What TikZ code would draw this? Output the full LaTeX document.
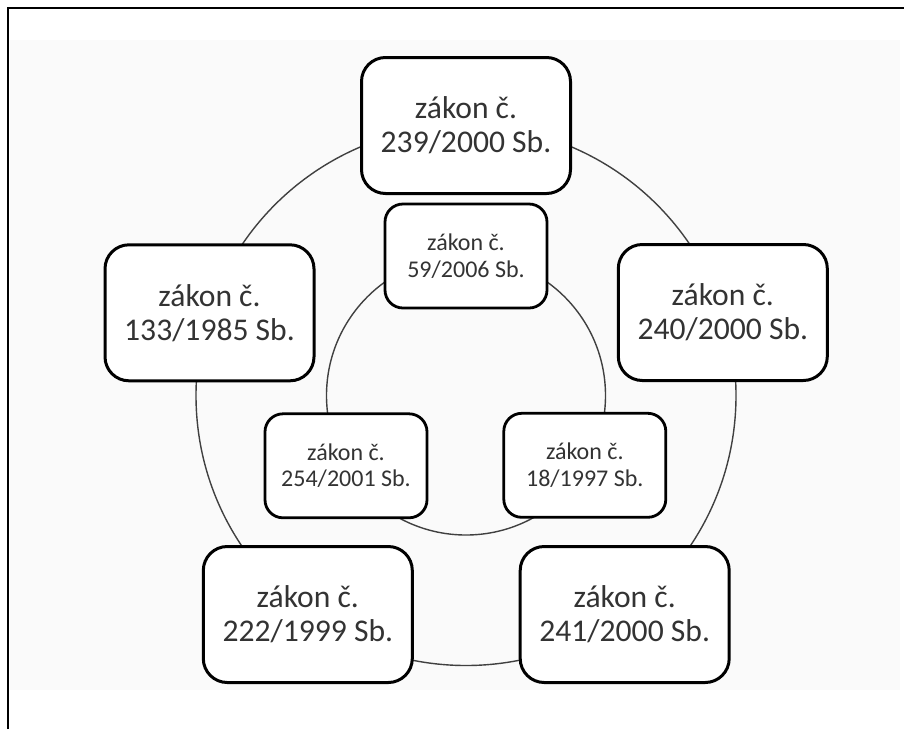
\documentclass[tikz,border=0pt]{standalone}
\usepackage{fontspec}
\setmainfont{Carlito}
\begin{document}
\begin{tikzpicture}[x=0.5pt,y=-0.5pt,
  outerbox/.style={draw=black, line width=1.5pt, fill=white, rounded corners=12pt,
    minimum width=104.5pt, minimum height=68pt, align=center, text=black!80,
    font=\fontsize{15.8}{17}\selectfont, inner sep=0pt},
  innerbox/.style={draw=black, line width=1.4pt, fill=white, rounded corners=9pt,
    minimum width=81pt, minimum height=52pt, align=center, text=black!80,
    font=\fontsize{12}{13.3}\selectfont, inner sep=0pt},
  ring/.style={draw=black!75, line width=0.7pt}]
\useasboundingbox (0,0) rectangle (904,729);
\fill[black!2] (10,40) rectangle (900,690);
\draw[line width=0.8pt] (8,729) -- (8,8) -- (904,8);
% circles
\coordinate (c) at (466,395.5);
\draw[ring] (c) circle[radius=135pt];
\draw[ring] (c) circle[radius=69.75pt];
% outer boxes
\node[outerbox] (o1) at (466,125.5) {zákon č.\\239/2000 Sb.};
\node[outerbox] (o2) at (722.8,312.5) {zákon č.\\240/2000 Sb.};
\node[outerbox] (o3) at (624.7,614.5) {zákon č.\\241/2000 Sb.};
\node[outerbox] (o4) at (307.8,614.5) {zákon č.\\222/1999 Sb.};
\node[outerbox] (o5) at (209.5,312.8) {zákon č.\\133/1985 Sb.};
% inner boxes
\node[innerbox] (i1) at (466,256) {zákon č.\\59/2006 Sb.};
\node[innerbox] (i2) at (584.8,465.3) {zákon č.\\18/1997 Sb.};
\node[innerbox] (i3) at (346,465.8) {zákon č.\\254/2001 Sb.};
\end{tikzpicture}
\end{document}
